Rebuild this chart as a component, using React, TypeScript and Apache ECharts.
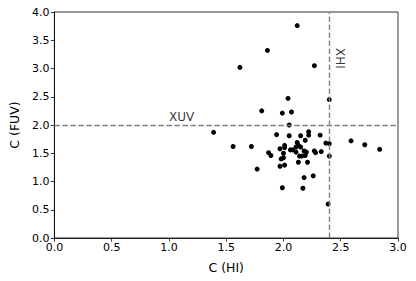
import React, { useEffect, useRef } from "react";
import * as echarts from "echarts";

const xValues: number[] = [
  2.12, 1.86, 1.62, 2.27, 2.04, 2.40, 1.81, 1.99, 2.07, 2.05,
  1.39, 1.94, 2.05, 2.15, 2.22, 2.22, 2.32, 2.19, 2.12, 2.37,
  2.40, 2.59, 2.71, 2.84, 1.56, 1.72, 2.01, 1.97, 2.01, 2.06,
  2.11, 2.13, 2.15, 2.08, 2.11, 2.18, 2.20, 2.27, 2.28, 2.33,
  1.87, 1.89, 2.00, 2.14, 2.16, 2.19, 2.40, 1.98, 2.00, 2.13,
  2.21, 1.97, 2.01, 1.77, 2.26, 2.18, 1.99, 2.17, 2.39,
];
const yValues: number[] = [
  3.76, 3.32, 3.02, 3.05, 2.47, 2.45, 2.25, 2.21, 2.23, 2.00,
  1.87, 1.83, 1.81, 1.81, 1.88, 1.82, 1.82, 1.73, 1.69, 1.68,
  1.67, 1.72, 1.65, 1.57, 1.62, 1.62, 1.64, 1.58, 1.60, 1.56,
  1.61, 1.64, 1.61, 1.56, 1.52, 1.54, 1.52, 1.54, 1.51, 1.53,
  1.51, 1.46, 1.50, 1.45, 1.45, 1.46, 1.45, 1.40, 1.42, 1.34,
  1.34, 1.27, 1.29, 1.22, 1.10, 1.07, 0.89, 0.88, 0.60,
];
const hLineY = 2.0;
const vLineX = 2.4;
const labelTexts: string[] = ["XUV", "XHI"];
const labelX: number[] = [1.11, 2.49];
const labelY: number[] = [2.15, 3.18];
const labelRotate: number[] = [0, -90];

const FONT = "DejaVu Sans";

export default function App() {
  const ref = useRef<HTMLDivElement>(null);
  useEffect(() => {
    if (!ref.current) return;
    const chart = echarts.init(ref.current, undefined, { renderer: "svg" });
    const points = xValues.map((x, i) => [x, yValues[i]]);
    const labelData = labelTexts.map((t, i) => ({
      value: [labelX[i], labelY[i]],
      label: {
        show: true,
        formatter: t,
        rotate: labelRotate[i],
        position: "inside",
        color: "#000",
        fontFamily: FONT,
        fontSize: 12,
      },
    }));
    const axisCommon = {
      nameLocation: "middle" as const,
      nameTextStyle: { color: "#000", fontFamily: FONT, fontSize: 12.5 },
      axisLine: { show: true, lineStyle: { color: "#000", width: 0.8 } },
      axisTick: { show: true, inside: false, length: 3.5, lineStyle: { color: "#000", width: 0.8 } },
      axisLabel: {
        color: "#000",
        fontFamily: FONT,
        fontSize: 11,
        formatter: (v: number) => v.toFixed(1),
      },
      splitLine: { show: false },
    };
    chart.setOption({
      animation: false,
      grid: {
        left: 51,
        right: 18,
        top: 12,
        bottom: 43,
        show: true,
        borderColor: "#000",
        borderWidth: 0.8,
        backgroundColor: "transparent",
      },
      xAxis: {
        ...axisCommon,
        type: "value",
        min: 0,
        max: 3,
        interval: 0.5,
        name: "C (HI)",
        nameGap: 23,
        axisLabel: { ...axisCommon.axisLabel, margin: 4 },
      },
      yAxis: {
        ...axisCommon,
        type: "value",
        min: 0,
        max: 4,
        interval: 0.5,
        name: "C (FUV)",
        nameGap: 32,
        axisLabel: { ...axisCommon.axisLabel, margin: 5 },
      },
      series: [
        {
          type: "scatter",
          data: points,
          symbolSize: 5,
          itemStyle: { color: "#000", opacity: 1 },
          markLine: {
            silent: true,
            symbol: "none",
            label: { show: false },
            lineStyle: { color: "#808080", type: [5.5, 2.5], width: 1.4 },
            data: [{ yAxis: hLineY }, { xAxis: vLineX }],
          },
        },
        {
          type: "scatter",
          data: labelData,
          symbolSize: 0,
          itemStyle: { color: "transparent" },
          z: 5,
        },
      ],
    });
    return () => chart.dispose();
  }, []);
  return <div ref={ref} style={{ width: 416, height: 281, position: "absolute", left: 0, top: 0 }} />;
}
